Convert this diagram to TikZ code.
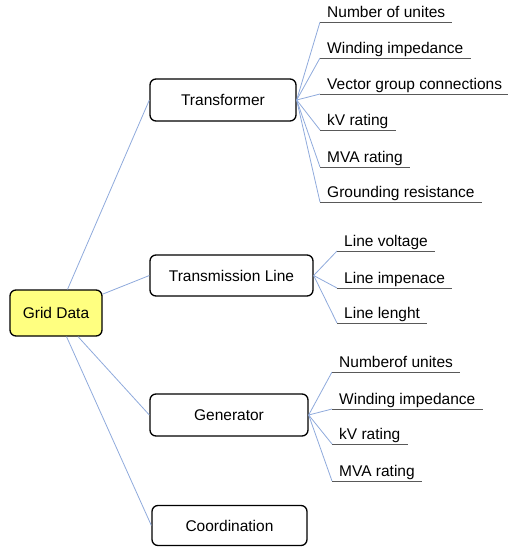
\documentclass[tikz,border=0pt]{standalone}
\usepackage{fontspec}
\setmainfont{Liberation Sans}
\definecolor{linkblue}{RGB}{143,170,220}
\definecolor{gridyellow}{RGB}{255,255,128}
\tikzset{
	box/.style={draw, rounded corners=6pt, line width=1.3pt, fill=white, minimum height=42pt, inner sep=0pt},
	leaf/.style={anchor=south west, inner xsep=7pt, inner ysep=4.5pt, text depth=0pt},
	link/.style={draw=linkblue, line width=0.8pt},
	uline/.style={draw=black!65, line width=1pt}
}
\begin{document}
\begin{tikzpicture}[every node/.style={font=\fontsize{15.5}{18}\selectfont}, x=1pt, y=-1pt]
	\useasboundingbox (0,0) rectangle (507,547);
	
	\node[box, fill=gridyellow, minimum width=92pt, minimum height=46pt] (grid) at (56,313) {Grid Data};
	\node[box, minimum width=146pt] (tr) at (223,100) {Transformer};
	\node[box, minimum width=163pt, minimum height=41pt] (tl) at (231.5,275.5) {Transmission Line};
	\node[box, minimum width=158pt] (gen) at (229,415) {Generator};
	\node[box, minimum width=155pt, minimum height=40pt] (co) at (229.5,525.5) {Coordination};
	
	\draw[link] (grid.64) -- (tr.west);
	\draw[link] (grid.22) -- (tl.west);
	\draw[link] (grid.-47) -- (gen.west);
	\draw[link] (grid.-66) -- (co.west);
	
	\foreach \y/\l [count=\i] in {22/Number of unites, 58/Winding impedance, 94/Vector group connections, 130/kV rating, 167/MVA rating, 202/Grounding resistance}
	{
		\node[leaf] (tr\i) at (320,\y) {\l};
		\draw[link] (tr.east) -- (tr\i.south west);
		\draw[uline] (tr\i.south west) -- (tr\i.south east);
	}
	
	\foreach \y/\l [count=\i] in {251/Line voltage, 288/Line impenace, 323/Line lenght}
	{
		\node[leaf] (tl\i) at (337,\y) {\l};
		\draw[link] (tl.east) -- (tl\i.south west);
		\draw[uline] (tl\i.south west) -- (tl\i.south east);
	}
	
	\foreach \y/\l [count=\i] in {372/Numberof unites, 409/Winding impedance, 444/kV rating, 481/MVA rating}
	{
		\node[leaf] (gen\i) at (332,\y) {\l};
		\draw[link] (gen.east) -- (gen\i.south west);
		\draw[uline] (gen\i.south west) -- (gen\i.south east);
	}
	
\end{tikzpicture}
\end{document}
